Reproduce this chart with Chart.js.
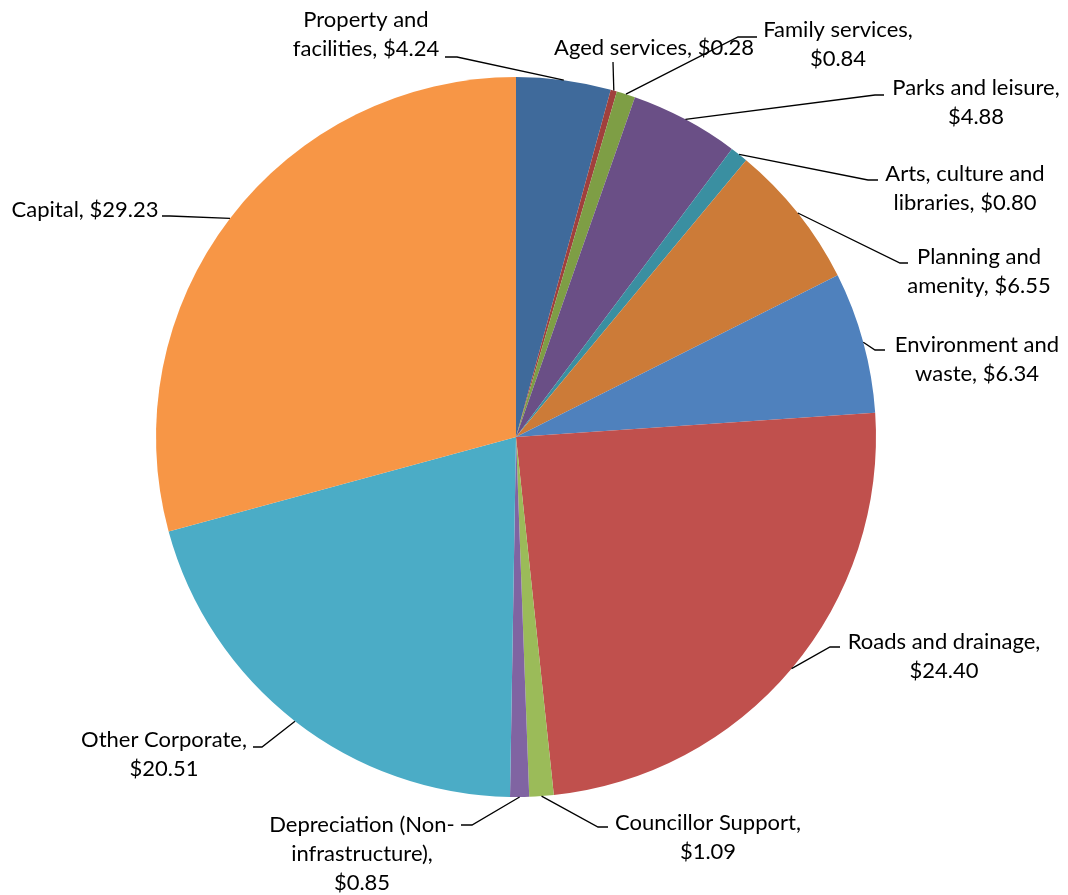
<!DOCTYPE html>
<html>
<head>
<meta charset="utf-8">
<title>Rates dollar breakdown</title>
<script src="https://cdn.jsdelivr.net/npm/chart.js@4.4.1/dist/chart.umd.min.js"></script>
<style>
  html, body { margin: 0; padding: 0; background: #ffffff; }
  #wrap { width: 1068px; height: 895px; position: relative; }
  canvas { display: block; }
</style>
</head>
<body>
<div id="wrap"><canvas id="pie" width="1068" height="895"></canvas></div>
<script>
// Spending categories, clockwise from 12 o'clock
const categories = [
  'Property and facilities',
  'Aged services',
  'Family services',
  'Parks and leisure',
  'Arts, culture and libraries',
  'Planning and amenity',
  'Environment and waste',
  'Roads and drainage',
  'Councillor Support',
  'Depreciation (Non-infrastructure)',
  'Other Corporate',
  'Capital'
];

// Dollars of every $100 of rates
const values = [4.24, 0.28, 0.84, 4.88, 0.80, 6.55, 6.34, 24.40, 1.09, 0.85, 20.51, 29.23];

const sliceColors = [
  '#3F6A9B', '#A0403D', '#7E9E45', '#6A4F86', '#3A8FA1', '#CC7B38',
  '#4F81BD', '#C0504D', '#9BBB59', '#8064A2', '#4BACC6', '#F79646'
];

// Words per label line (label text = "<category>, $<value>")
const wordsPerLine = [[2, 2], [3], [2, 1], [3, 1], [3, 2], [2, 2], [2, 2], [3, 1], [2, 1], [2, 1, 1], [2, 1], [2]];

// Label placement: text centre x, first line y, leader elbow, leader end x
const labelX      = [366, 654, 838, 976, 965, 979, 977, 944, 708, 362, 164, 85];
const labelY      = [20, 48, 30, 88, 174, 257, 345, 642, 823, 825, 740, 210];
const elbowX      = [457, 613, 738, 875, 868, 900, 875, 830, 598, 472, 262, 170];
const elbowY      = [57, 62, 37, 95, 180, 263, 350, 647, 827, 825, 747, 216];
const leaderEndX  = [445, 613, 757, 884, 878, 908, 885, 840, 608, 461, 253, 162];

const lineHeight = 29;

function labelLines(i) {
  const text = categories[i] + ', $' + values[i].toFixed(2);
  const tokens = text.split(/ |(?<=-)/);
  const lines = [];
  let k = 0;
  wordsPerLine[i].forEach(n => {
    let line = '';
    for (let j = 0; j < n && k < tokens.length; j++, k++) {
      const t = tokens[k];
      line += (line === '' || line.endsWith('-')) ? t : ' ' + t;
    }
    lines.push(line);
  });
  return lines;
}

const calloutLabels = {
  id: 'calloutLabels',
  afterDatasetsDraw(chart) {
    const ctx = chart.ctx;
    const arcs = chart.getDatasetMeta(0).data;
    ctx.save();
    arcs.forEach((arc, i) => {
      const mid = (arc.startAngle + arc.endAngle) / 2;
      const sx = arc.x + Math.cos(mid) * arc.outerRadius;
      const sy = arc.y + Math.sin(mid) * arc.outerRadius;
      ctx.beginPath();
      ctx.strokeStyle = '#000000';
      ctx.lineWidth = 1.3;
      ctx.moveTo(sx, sy);
      ctx.lineTo(elbowX[i], elbowY[i]);
      ctx.lineTo(leaderEndX[i], elbowY[i]);
      ctx.stroke();

      ctx.fillStyle = '#000000';
      ctx.font = '22px Lato, "Open Sans", sans-serif';
      ctx.textAlign = 'center';
      ctx.textBaseline = 'middle';
      labelLines(i).forEach((ln, j) => {
        ctx.fillText(ln, labelX[i], labelY[i] + j * lineHeight);
      });
    });
    ctx.restore();
  }
};

new Chart(document.getElementById('pie'), {
  type: 'pie',
  data: {
    labels: categories,
    datasets: [{
      data: values,
      backgroundColor: sliceColors,
      borderWidth: 0,
      hoverOffset: 0
    }]
  },
  options: {
    responsive: false,
    devicePixelRatio: 1,
    animation: false,
    layout: { padding: { top: 77, bottom: 98, left: 0, right: 36 } },
    plugins: {
      legend: { display: false },
      tooltip: { enabled: false }
    }
  },
  plugins: [calloutLabels]
});
</script>
</body>
</html>
